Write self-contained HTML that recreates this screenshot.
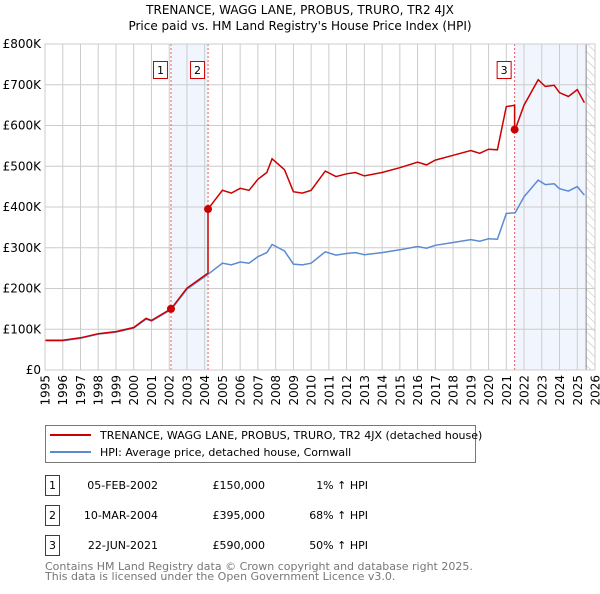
<!DOCTYPE html>
<html><head><meta charset="utf-8"><style>
body{margin:0;background:#fff;font-family:"DejaVu Sans","Liberation Sans",sans-serif;}
svg text{font-family:"DejaVu Sans","Liberation Sans",sans-serif;}
</style></head><body>
<svg id="c" width="600" height="590" xmlns="http://www.w3.org/2000/svg">
<defs><pattern id="hatch" width="6" height="6" patternUnits="userSpaceOnUse" patternTransform="rotate(-45)"><line x1="0" y1="0" x2="0" y2="6" stroke="#bbb" stroke-width="1"/></pattern></defs>
<text x="300" y="14" text-anchor="middle" font-size="12" fill="#000">TRENANCE, WAGG LANE, PROBUS, TRURO, TR2 4JX</text>
<text x="300" y="30" text-anchor="middle" font-size="12" fill="#000">Price paid vs. HM Land Registry's House Price Index (HPI)</text>
<g id="plot"></g>
<g>
<rect x="45.5" y="425.5" width="430" height="37" fill="#fff" stroke="#777"/>
<line x1="50" y1="435" x2="91" y2="435" stroke="#cc0000" stroke-width="2"/>
<text x="100" y="439" font-size="11">TRENANCE, WAGG LANE, PROBUS, TRURO, TR2 4JX (detached house)</text>
<line x1="50" y1="452" x2="91" y2="452" stroke="#5b8bd0" stroke-width="2"/>
<text x="100" y="456" font-size="11">HPI: Average price, detached house, Cornwall</text>
</g>
<g font-size="11">
<rect x="45.5" y="475.5" width="14" height="20" fill="#fff" stroke="#cc0000"/><text x="52.5" y="489" text-anchor="middle">1</text>
<text x="158" y="489" text-anchor="end">05-FEB-2002</text><text x="265" y="489" text-anchor="end">£150,000</text><text x="368" y="489" text-anchor="end">1% ↑ HPI</text>
<rect x="45.5" y="505.5" width="14" height="20" fill="#fff" stroke="#cc0000"/><text x="52.5" y="519" text-anchor="middle">2</text>
<text x="158" y="519" text-anchor="end">10-MAR-2004</text><text x="265" y="519" text-anchor="end">£395,000</text><text x="368" y="519" text-anchor="end">68% ↑ HPI</text>
<rect x="45.5" y="535.5" width="14" height="20" fill="#fff" stroke="#cc0000"/><text x="52.5" y="549" text-anchor="middle">3</text>
<text x="158" y="549" text-anchor="end">22-JUN-2021</text><text x="265" y="549" text-anchor="end">£590,000</text><text x="368" y="549" text-anchor="end">50% ↑ HPI</text>
</g>
<text x="45" y="570" font-size="11" fill="#777">Contains HM Land Registry data © Crown copyright and database right 2025.</text>
<text x="45" y="580" font-size="11" fill="#777">This data is licensed under the Open Government Licence v3.0.</text>
</svg>
<script>
const hpiYears=[1995,1996,1997,1998,1999,2000,2000.7,2001,2002.1,2003,2004.2,2005,2005.5,2006,2006.5,2007,2007.5,2007.8,2008.5,2009,2009.5,2010,2010.8,2011.4,2012,2012.5,2013,2014,2015,2016,2016.5,2017,2018,2019,2019.5,2020,2020.5,2021,2021.5,2022,2022.8,2023.2,2023.7,2024,2024.5,2025,2025.4];
const hpiValues=[72,72,78,88,93,103,125,120,148,198,235,262,258,265,262,278,288,308,292,260,258,262,290,282,286,288,283,288,295,303,299,306,313,320,316,322,321,384,386,425,466,455,457,445,439,450,429];
const saleYears=[2002.1,2004.19,2021.47];
const salePrices=[150,395,590];
const saleLabels=["1","2","3"];
const yTicks=[0,100,200,300,400,500,600,700,800];
const yTickLabels=["£0","£100K","£200K","£300K","£400K","£500K","£600K","£700K","£800K"];
const xTicks=[1995,1996,1997,1998,1999,2000,2001,2002,2003,2004,2005,2006,2007,2008,2009,2010,2011,2012,2013,2014,2015,2016,2017,2018,2019,2020,2021,2022,2023,2024,2025,2026];

const X0=45,X1=595,Y0=370,Y1=44;
const sx=y=>X0+(y-1995)/(2026-1995)*(X1-X0);
const sy=v=>Y0-v/800*(Y0-Y1);
const NS="http://www.w3.org/2000/svg";
const g=document.getElementById('plot');
function mk(t,a,p){const e=document.createElementNS(NS,t);for(const k in a)e.setAttribute(k,a[k]);(p||g).appendChild(e);return e;}
function hpiAt(y){for(let i=0;i<hpiYears.length-1;i++){if(y<=hpiYears[i+1]){const t=(y-hpiYears[i])/(hpiYears[i+1]-hpiYears[i]);return hpiValues[i]+t*(hpiValues[i+1]-hpiValues[i]);}}return hpiValues[hpiValues.length-1];}

let bg=mk('rect',{x:X0,y:Y1,width:X1-X0,height:Y0-Y1,fill:'#fff'});


let s1=mk('rect',{x:sx(saleYears[0]),y:Y1,width:sx(saleYears[1])-sx(saleYears[0]),height:Y0-Y1,fill:'#eef3fc',opacity:0.8});


let s2=mk('rect',{x:sx(saleYears[2]),y:Y1,width:sx(2025.5)-sx(saleYears[2]),height:Y0-Y1,fill:'#eef3fc',opacity:0.8});


let hz=mk('rect',{x:sx(2025.5),y:Y1,width:X1-sx(2025.5),height:Y0-Y1,fill:'url(#hatch)'});


xTicks.forEach(t=>{const l=mk('line',{x1:sx(t),x2:sx(t),y1:Y1,y2:Y0,stroke:'#ccc'});


const tx=mk('text',{x:0,y:0,'font-size':12,'text-anchor':'end',transform:`translate(${sx(t)+4.5},${Y0+5}) rotate(-90)`});tx.textContent=t;

});
yTicks.forEach((t,i)=>{const l=mk('line',{x1:X0,x2:X1,y1:sy(t),y2:sy(t),stroke:'#ccc'});


const tx=mk('text',{x:X0-4,y:sy(t)+4,'font-size':12,'text-anchor':'end'});tx.textContent=yTickLabels[i];

});
let vl=mk('line',{x1:sx(2025.5),x2:sx(2025.5),y1:Y1,y2:Y0,stroke:'#888'});


saleYears.forEach((y,i)=>{const l=mk('line',{x1:sx(y),x2:sx(y),y1:Y1,y2:Y0,stroke:'#e06060','stroke-dasharray':'2,2'});


const r=mk('rect',{x:sx(y)-17.5,y:61.5,width:14,height:17,fill:'#fff',stroke:'#cc0000'});


const tx=mk('text',{x:sx(y)-10.5,y:74,'font-size':11,'text-anchor':'middle'});tx.textContent=saleLabels[i];

});
let d=hpiYears.map((y,i)=>(i?'L':'M')+sx(y).toFixed(1)+','+sy(hpiValues[i]).toFixed(1)).join('');
let hp=mk('path',{d:d,fill:'none',stroke:'#5b8bd0','stroke-width':1.5});


let pts=[];
const f0=salePrices[0]/hpiAt(saleYears[0]);
hpiYears.forEach((y,i)=>{let f;
 if(y<saleYears[1])f=f0;else if(y<saleYears[2])f=salePrices[1]/hpiAt(saleYears[1]);else f=salePrices[2]/hpiAt(saleYears[2]);
 pts.push([y,hpiValues[i]*f]);
 });
saleYears.forEach((y,i)=>{const prevF=i<=1?f0:salePrices[1]/hpiAt(saleYears[1]);pts.push([y-0.001,hpiAt(y)*prevF]);pts.push([y,salePrices[i]]);});
pts.sort((a,b)=>a[0]-b[0]);
d=pts.map((p,i)=>(i?'L':'M')+sx(p[0]).toFixed(1)+','+sy(p[1]).toFixed(1)).join('');
let pp=mk('path',{d:d,fill:'none',stroke:'#cc0000','stroke-width':1.5});


saleYears.forEach((y,i)=>{const c=mk('circle',{cx:sx(y),cy:sy(salePrices[i]),r:4,fill:'#cc0000'});

});
let fr=mk('rect',{x:X0,y:Y1,width:X1-X0,height:Y0-Y1,fill:'none',stroke:'#ccc'});


</script>
</body></html>
